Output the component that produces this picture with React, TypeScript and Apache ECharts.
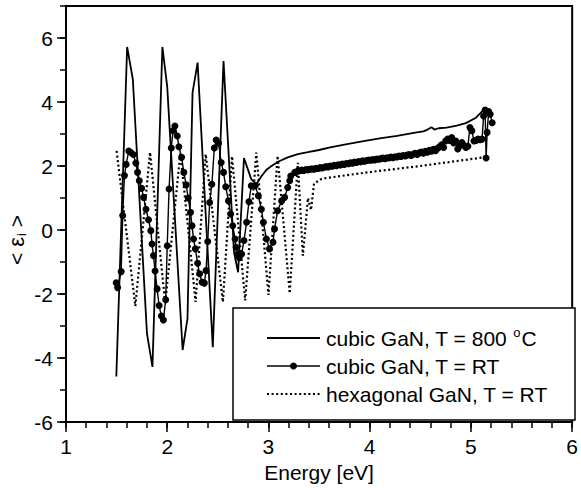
import React, { useEffect, useRef } from "react";
import * as echarts from "echarts";

const FONT = "'Liberation Sans', Arial, Helvetica, sans-serif";

const xRange = [1, 6];
const yRange = [-6, 7];
const seriesNames = ["cubic GaN, T = 800 {sup|o}C", "cubic GaN, T = RT", "hexagonal GaN, T = RT"];
const xTitle = "Energy [eV]";

// cubic GaN, T = 800 °C (solid line)
const cubic800: [number, number][] = [
  [1.497, -4.58], [1.604, 5.72], [1.66, 4.71], [1.8, -3.24], [1.854, -4.28],
  [1.952, 5.72], [2.0, 4.47], [2.152, -3.75], [2.2, -2.77], [2.25, 4.29], [2.3, 5.23],
  [2.45, -3.66], [2.556, 5.28], [2.66, -0.7], [2.7, -1.32], [2.758, 2.25], [2.83, 1.59],
  [2.88, 1.43], [2.93, 1.68], [2.98, 1.88], [3.03, 2.0], [3.1, 2.14], [3.19, 2.27],
  [3.29, 2.37], [3.39, 2.43], [3.5, 2.5], [3.61, 2.58], [3.75, 2.67], [3.94, 2.78],
  [4.1, 2.86], [4.27, 2.94], [4.45, 3.04], [4.53, 3.08], [4.56, 3.12], [4.61, 3.21],
  [4.64, 3.14], [4.68, 3.18], [4.76, 3.2], [4.86, 3.26], [4.95, 3.34], [5.05, 3.51],
  [5.13, 3.77],
];

// cubic GaN, T = RT (line with dots)
const cubicRT: [number, number][] = [
  [1.496, -1.65], [1.51, -1.8], [1.545, -1.3], [1.56, 0.45], [1.577, 1.7], [1.594, 2.05],
  [1.62, 2.47], [1.64, 2.42], [1.665, 2.36], [1.69, 2.09], [1.707, 1.8], [1.724, 1.54],
  [1.747, 1.3], [1.766, 1.02], [1.79, 0.65], [1.815, 0.32], [1.838, -0.02], [1.85, -0.44],
  [1.864, -0.8], [1.88, -1.28], [1.9, -1.84], [1.92, -2.36], [1.942, -2.69], [1.962, -2.81],
  [1.985, -2.18], [2.0, -0.49], [2.018, 1.28], [2.04, 2.56], [2.057, 3.1], [2.076, 3.25],
  [2.099, 2.94], [2.115, 2.6], [2.142, 2.27], [2.164, 1.8], [2.187, 1.41], [2.207, 1.0],
  [2.23, 0.55], [2.245, 0.13], [2.26, -0.28], [2.278, -0.59], [2.3, -1.04], [2.32, -1.37],
  [2.344, -1.63], [2.367, -1.66], [2.383, -1.27], [2.4, -0.36], [2.419, 0.86], [2.441, 1.43],
  [2.465, 2.56], [2.484, 2.81], [2.507, 2.71], [2.533, 2.11], [2.556, 1.8], [2.578, 1.35],
  [2.605, 0.91], [2.627, 0.5], [2.647, 0.13], [2.67, -0.28], [2.68, -0.54], [2.696, -0.75],
  [2.712, -0.87], [2.735, -0.75], [2.758, -0.33], [2.784, 0.24], [2.807, 0.88], [2.83, 1.38],
  [2.87, 1.38], [2.9, 1.07], [2.93, 0.65], [2.95, 0.24], [2.98, -0.28], [3.01, -0.59],
  [3.045, -0.38], [3.06, 0.03], [3.09, 0.6], [3.13, 0.91], [3.16, 1.02], [3.19, 1.33],
  [3.21, 1.54], [3.22, 1.69], [3.26, 1.8], [3.29, 1.84],
  [3.31, 1.85], [3.33, 1.87], [3.35, 1.86], [3.37, 1.89], [3.39, 1.88], [3.41, 1.9],
  [3.43, 1.91], [3.45, 1.9], [3.47, 1.93], [3.49, 1.92], [3.51, 1.95], [3.53, 1.94],
  [3.55, 1.96], [3.57, 1.98], [3.59, 1.97], [3.61, 2.0], [3.63, 1.99], [3.65, 2.02],
  [3.67, 2.01], [3.69, 2.04], [3.71, 2.03], [3.73, 2.06], [3.75, 2.05], [3.77, 2.08],
  [3.79, 2.07], [3.81, 2.1], [3.83, 2.09], [3.85, 2.12], [3.87, 2.11], [3.89, 2.14],
  [3.91, 2.13], [3.93, 2.16], [3.95, 2.15], [3.97, 2.17], [3.99, 2.19], [4.01, 2.18],
  [4.03, 2.2], [4.05, 2.19], [4.07, 2.22], [4.09, 2.21], [4.11, 2.23], [4.13, 2.25],
  [4.15, 2.23], [4.17, 2.26], [4.19, 2.25], [4.21, 2.28], [4.23, 2.26], [4.25, 2.29],
  [4.27, 2.28], [4.29, 2.31], [4.31, 2.3], [4.33, 2.33], [4.35, 2.31], [4.37, 2.34],
  [4.39, 2.36], [4.41, 2.33], [4.43, 2.37], [4.45, 2.4], [4.47, 2.36], [4.49, 2.41],
  [4.51, 2.44], [4.53, 2.4], [4.55, 2.46], [4.57, 2.43], [4.59, 2.49], [4.61, 2.46],
  [4.63, 2.52], [4.65, 2.48], [4.67, 2.55], [4.69, 2.6], [4.71, 2.66], [4.73, 2.58],
  [4.75, 2.78], [4.77, 2.84], [4.79, 2.8], [4.81, 2.89], [4.83, 2.72], [4.85, 2.78],
  [4.87, 2.53], [4.89, 2.63], [4.91, 2.73], [4.93, 2.65], [4.95, 2.58], [4.97, 2.62],
  [4.99, 3.2], [5.01, 3.1], [5.03, 2.78], [5.05, 2.8], [5.07, 2.84], [5.09, 2.82],
  [5.11, 2.84], [5.125, 3.56], [5.14, 3.75], [5.15, 2.25], [5.16, 3.05], [5.175, 3.7],
  [5.19, 3.62], [5.21, 3.35],
];

// hexagonal GaN, T = RT (dotted line)
const hexRT: [number, number][] = [
  [1.5, 2.47], [1.685, -2.38], [1.83, 2.43], [1.98, -2.3], [2.13, 2.42], [2.28, -2.25],
  [2.38, 2.37], [2.55, -2.25], [2.64, 2.3], [2.77, -2.2], [2.88, 2.42], [3.0, -2.03],
  [3.09, 2.32], [3.21, -1.98], [3.29, 2.1], [3.34, -0.8], [3.39, 1.0], [3.42, 0.62],
  [3.45, 1.45], [3.52, 1.59], [3.58, 1.63], [4.0, 1.81], [4.5, 2.0], [5.15, 2.28],
];

const axisText = { fontSize: 21, color: "#000", fontFamily: FONT };

export default function App() {
  const ref = useRef<HTMLDivElement>(null);
  useEffect(() => {
    if (!ref.current) return;
    const chart = echarts.init(ref.current, undefined, { renderer: "svg" });
    const baseAxis = {
      type: "value" as const,
      splitLine: { show: false },
    };
    chart.setOption({
      animation: false,
      backgroundColor: "#fff",
      grid: {
        left: 66, right: 4, top: 6, bottom: 65,
        show: true, borderColor: "#000", borderWidth: 2, backgroundColor: "transparent",
      },
      xAxis: [
        {
          ...baseAxis, min: xRange[0], max: xRange[1], interval: 1, position: "bottom",
          name: xTitle, nameLocation: "middle", nameGap: 40, nameTextStyle: axisText,
          axisLine: { onZero: false, lineStyle: { color: "#000", width: 2 } },
          axisTick: { length: 10, lineStyle: { color: "#000", width: 1.5 } },
          axisLabel: { ...axisText, margin: 14 },
        },
        {
          ...baseAxis, min: xRange[0], max: xRange[1], interval: 0.2, position: "bottom",
          axisLine: { show: false, onZero: false },
          axisTick: { length: 6, lineStyle: { color: "#000", width: 1.5 } },
          axisLabel: { show: false },
        },
      ],
      yAxis: [
        {
          ...baseAxis, min: yRange[0], max: yRange[1], interval: 2, position: "left",
          axisLine: { onZero: false, lineStyle: { color: "#000", width: 2 } },
          axisTick: { length: 9, lineStyle: { color: "#000", width: 1.5 } },
          axisLabel: { ...axisText, margin: 13, showMaxLabel: false },
        },
        {
          ...baseAxis, min: yRange[0], max: yRange[1], interval: 1, position: "left",
          axisLine: { show: false, onZero: false },
          axisTick: { length: 6, lineStyle: { color: "#000", width: 1.5 } },
          axisLabel: { show: false },
        },
      ],
      series: [
        {
          name: "cubic GaN, T = 800 °C", type: "line", data: cubic800, symbol: "none",
          lineStyle: { color: "#000", width: 1.8 }, z: 3,
        },
        {
          name: "hexagonal GaN, T = RT", type: "line", data: hexRT, symbol: "none",
          lineStyle: { color: "#000", width: 2.2, type: [2, 2.6] }, z: 2,
        },
        {
          name: "cubic GaN, T = RT", type: "line", data: cubicRT, symbol: "circle", symbolSize: 7,
          itemStyle: { color: "#000" }, lineStyle: { color: "#000", width: 1.4 }, z: 4,
        },
      ],
      graphic: [
        {
          type: "text", x: 16, y: 240, rotation: Math.PI / 2, z: 100,
          style: {
            text: "< {e|ε}{sub|i} >", fill: "#000", font: `21px ${FONT}`,
            align: "center", verticalAlign: "middle",
            rich: {
              e: { fontSize: 22, fontFamily: FONT, fill: "#000" },
              sub: { fontSize: 13, fontFamily: FONT, fill: "#000", padding: [10, 0, 0, 1] },
            },
          },
        },
        {
          type: "group", z: 100,
          children: [
            { type: "rect", shape: { x: 233, y: 308, width: 342, height: 112 }, style: { fill: "#fff", stroke: "#000", lineWidth: 1.5 } },
            { type: "line", shape: { x1: 267, y1: 338, x2: 320, y2: 338 }, style: { stroke: "#000", lineWidth: 2 } },
            { type: "line", shape: { x1: 267, y1: 366, x2: 320, y2: 366 }, style: { stroke: "#000", lineWidth: 1.5 } },
            { type: "circle", shape: { cx: 293.5, cy: 366, r: 3.5 }, style: { fill: "#000" } },
            { type: "line", shape: { x1: 267, y1: 394, x2: 320, y2: 394 }, style: { stroke: "#000", lineWidth: 2, lineDash: [2, 2.6] } },
            ...seriesNames.map((t, i) => ({
              type: "text", x: 326, y: 338 + i * 28,
              style: {
                text: t, fill: "#000", font: `21px ${FONT}`, verticalAlign: "middle", align: "left",
                rich: {
                  sup: { fontSize: 13, fontFamily: FONT, fill: "#000", padding: [0, 1, 12, 0] },
                },
              },
            })),
          ],
        },
      ],
    });
    return () => chart.dispose();
  }, []);
  return <div ref={ref} style={{ position: "fixed", left: 0, top: 0, width: 581, height: 488 }} />;
}
